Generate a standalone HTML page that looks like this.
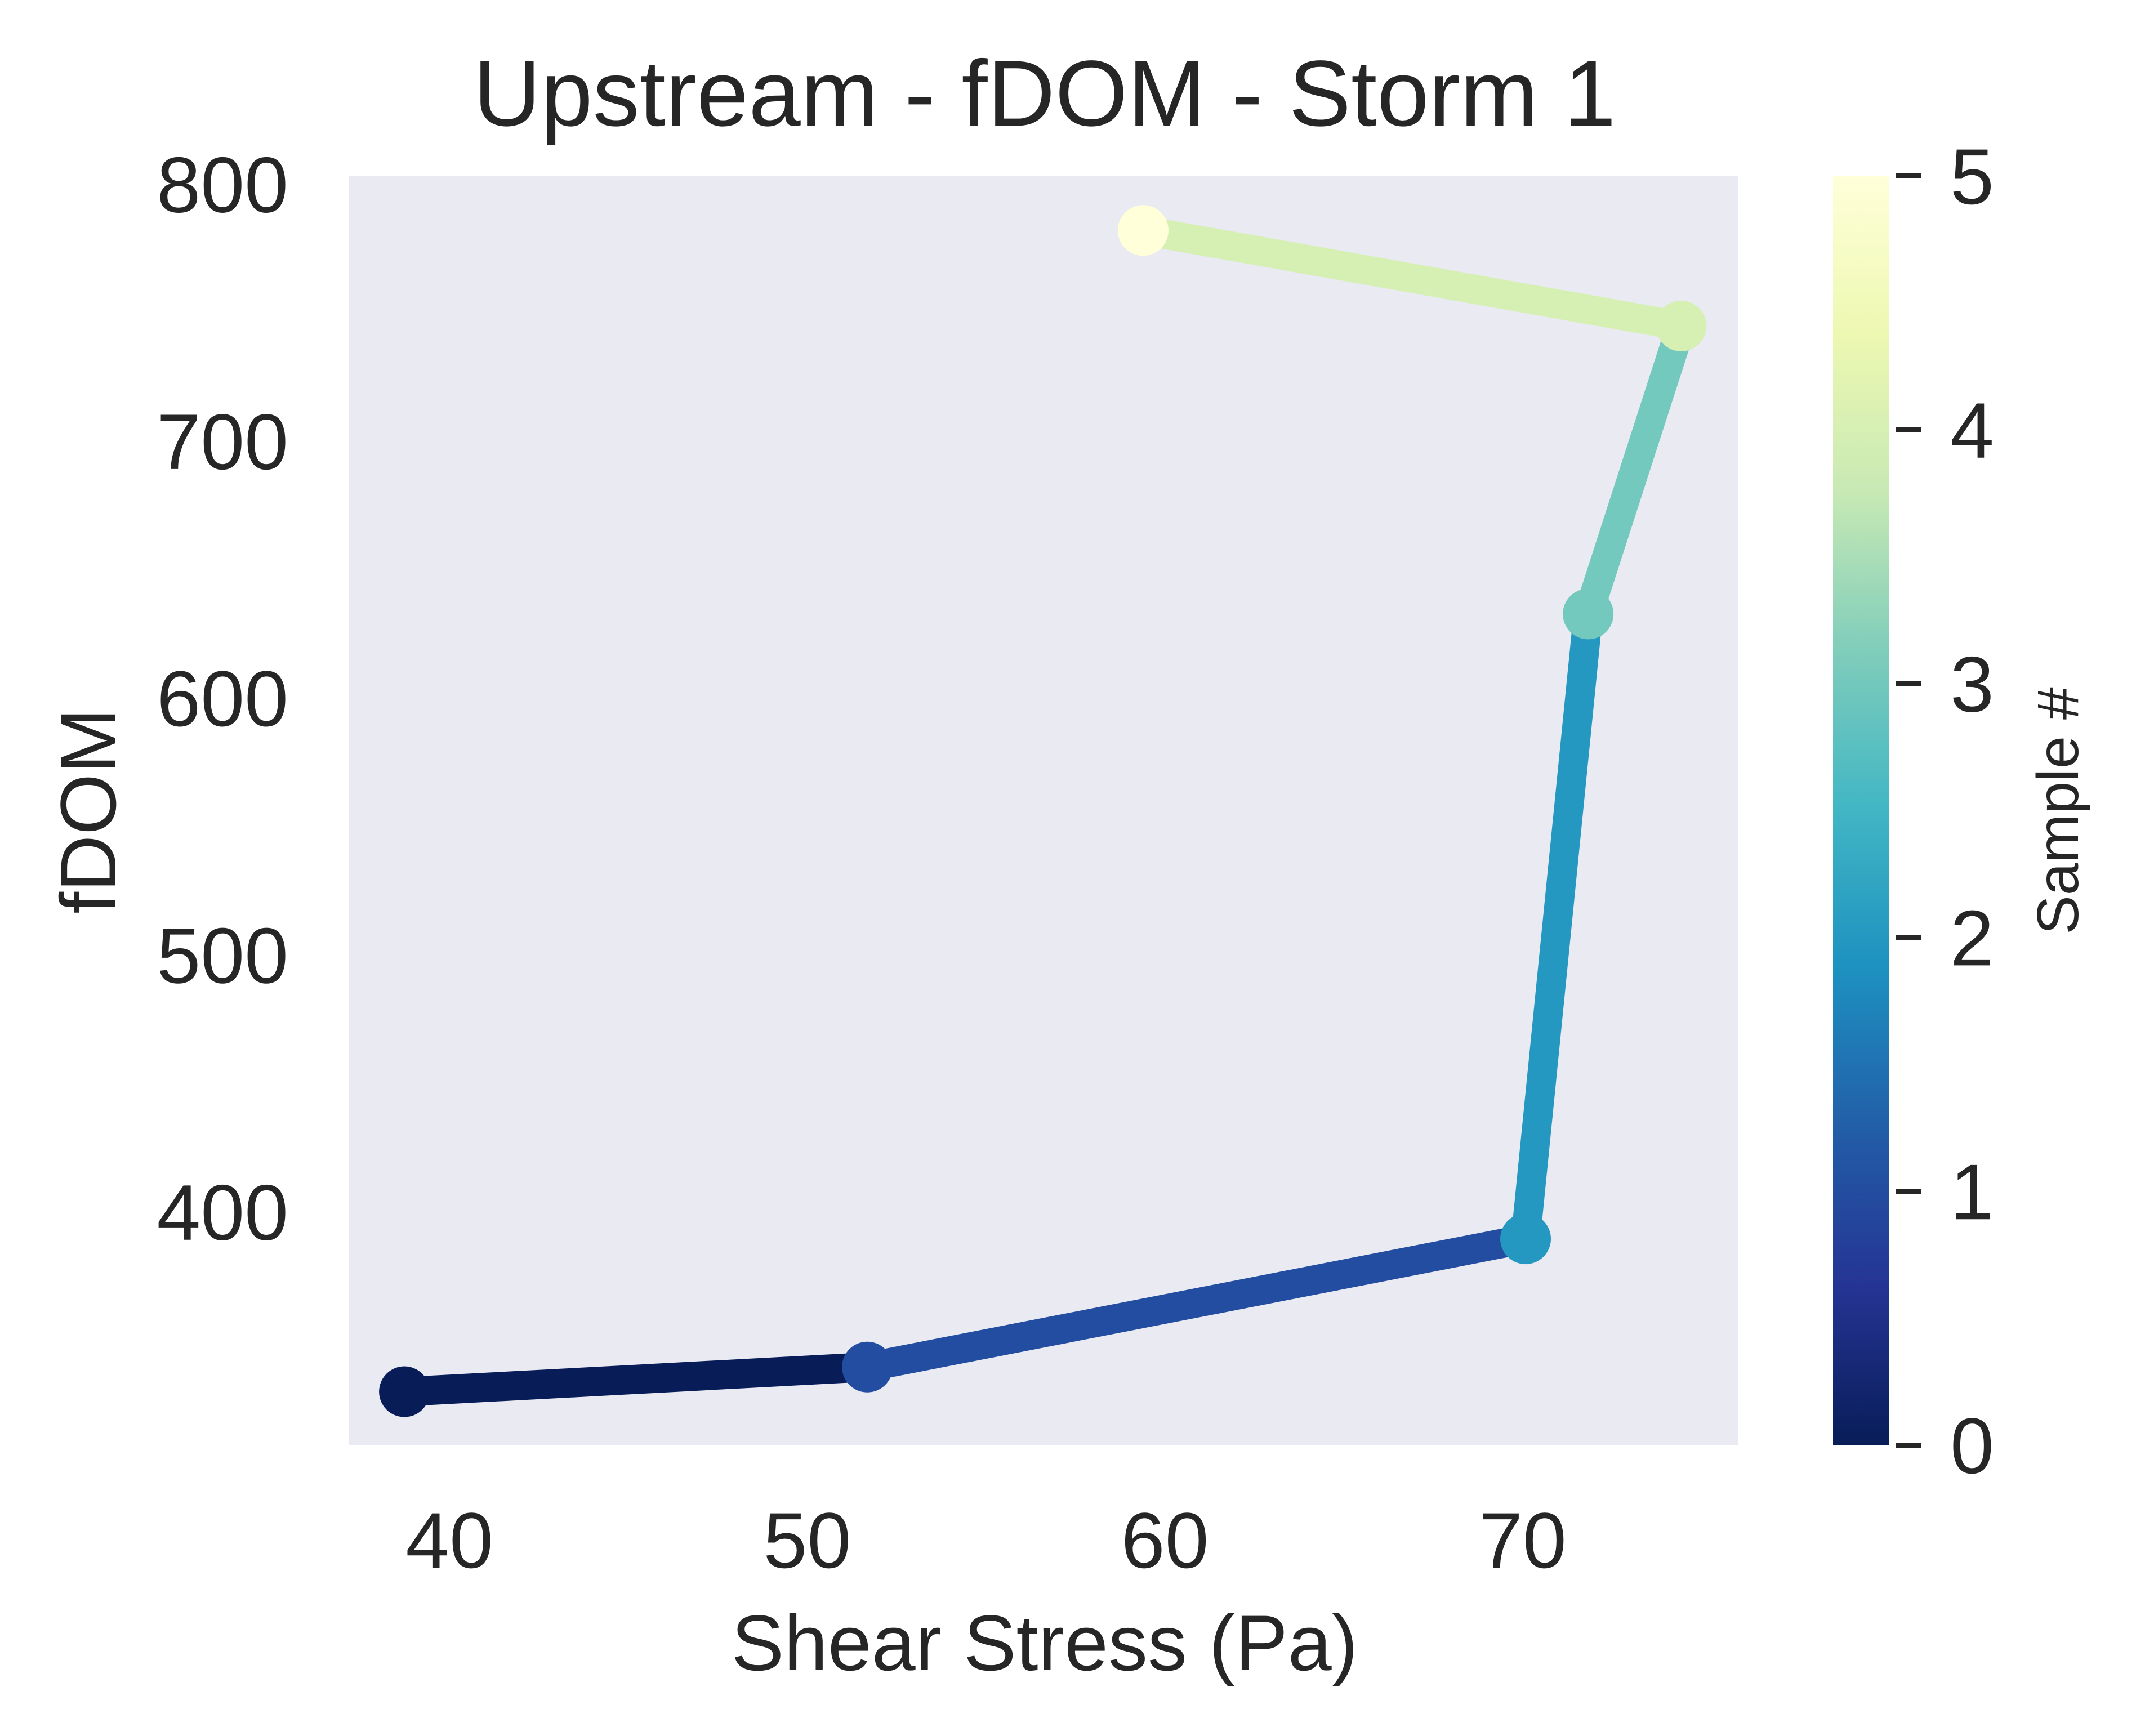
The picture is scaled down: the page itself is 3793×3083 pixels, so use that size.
<!DOCTYPE html>
<html><head><meta charset="utf-8"><style>
html,body{margin:0;padding:0;background:#fff;}
svg{display:block;font-family:"Liberation Sans",Arial,sans-serif;}
</style></head><body>
<svg id="chart" width="3793" height="3083" viewBox="0 0 3793 3083" xmlns="http://www.w3.org/2000/svg">
<defs>
<linearGradient id="ylgnbu" x1="0" y1="1" x2="0" y2="0">
<stop offset="0" stop-color="#081d58"/><stop offset="0.125" stop-color="#253494"/>
<stop offset="0.25" stop-color="#225ea8"/><stop offset="0.375" stop-color="#1d91c0"/>
<stop offset="0.5" stop-color="#41b6c4"/><stop offset="0.625" stop-color="#7fcdbb"/>
<stop offset="0.75" stop-color="#c7e9b4"/><stop offset="0.875" stop-color="#edf8b1"/>
<stop offset="1" stop-color="#ffffd9"/>
</linearGradient>
</defs>
<rect x="619" y="312" width="2468" height="2254" fill="#eaeaf2"/>
<g id="marks"></g>
<g id="axes" fill="#262626"></g>
<text x="1855" y="223" font-size="166" text-anchor="middle" fill="#262626">Upstream - fDOM - Storm 1</text>
<text x="1855" y="2966" font-size="140" text-anchor="middle" fill="#262626">Shear Stress (Pa)</text>
<text transform="translate(205,1440) rotate(-90)" font-size="140" text-anchor="middle" fill="#262626">fDOM</text>
<rect x="3255" y="312" width="100" height="2254" fill="url(#ylgnbu)"/>
<text transform="translate(3690,1440) rotate(-90)" font-size="104" text-anchor="middle" fill="#262626">Sample #</text>
</svg>
<script>
const xValues = [38.74, 51.68, 70.08, 71.83, 74.43, 59.39];
const yValues = [329.9, 339.5, 389.4, 632.6, 744.7, 781.9];
const sampleIdx = [0, 1, 2, 3, 4, 5];
const xTicks = [40, 50, 60, 70];
const yTicks = [400, 500, 600, 700, 800];
const cbTicks = [0, 1, 2, 3, 4, 5];
const colors = ["#081d58", "#234da0", "#2498c1", "#73c9bd", "#d6efb3", "#ffffd9"];

const X0 = 619, X1 = 3087, Y0 = 2566, Y1 = 312;
const xMin = 37.18, xMax = 76.03, yMin = 309.2, yMax = 803.2;
const sx = v => X0 + (v - xMin) / (xMax - xMin) * (X1 - X0);
const sy = v => Y0 - (v - yMin) / (yMax - yMin) * (Y0 - Y1);
const sc = v => Y0 - v / 5 * (Y0 - Y1);
const NS = "http://www.w3.org/2000/svg";
const marks = document.getElementById('marks');
const axes = document.getElementById('axes');

for (let i = 0; i < xValues.length - 1; i++) {
  const l = document.createElementNS(NS, 'line');
  l.setAttribute('x1', sx(xValues[i])); l.setAttribute('y1', sy(yValues[i]));
  l.setAttribute('x2', sx(xValues[i+1])); l.setAttribute('y2', sy(yValues[i+1]));
  l.setAttribute('stroke', colors[sampleIdx[i]]); l.setAttribute('stroke-width', '52');
  
  
  marks.appendChild(l);
}
for (let i = 0; i < xValues.length; i++) {
  const c = document.createElementNS(NS, 'circle');
  c.setAttribute('cx', sx(xValues[i])); c.setAttribute('cy', sy(yValues[i]));
  c.setAttribute('r', '45'); c.setAttribute('fill', colors[sampleIdx[i]]);
  
  
  marks.appendChild(c);
}
xTicks.forEach(t => {
  const e = document.createElementNS(NS, 'text');
  e.setAttribute('x', sx(t)); e.setAttribute('y', 2784);
  e.setAttribute('font-size', '140'); e.setAttribute('text-anchor', 'middle');
  e.textContent = t;
  
  
  axes.appendChild(e);
});
yTicks.forEach(t => {
  const e = document.createElementNS(NS, 'text');
  e.setAttribute('x', 512); e.setAttribute('y', sy(t) + 50);
  e.setAttribute('font-size', '140'); e.setAttribute('text-anchor', 'end');
  e.textContent = t;
  
  
  axes.appendChild(e);
});
cbTicks.forEach(t => {
  const d = document.createElementNS(NS, 'rect');
  d.setAttribute('x', 3366); d.setAttribute('y', sc(t) - 4);
  d.setAttribute('width', 45); d.setAttribute('height', 9);
  
  
  axes.appendChild(d);
  const e = document.createElementNS(NS, 'text');
  e.setAttribute('x', 3463); e.setAttribute('y', sc(t) + 50);
  e.setAttribute('font-size', '140');
  e.textContent = t;
  
  
  axes.appendChild(e);
});
</script>
</body></html>
